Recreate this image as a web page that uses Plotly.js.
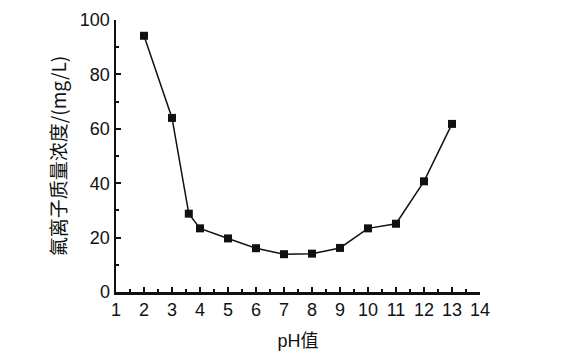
<!DOCTYPE html>
<html><head><meta charset="utf-8">
<script src="https://cdn.plot.ly/plotly-3.0.1.min.js"></script>
<style>html,body{margin:0;padding:0;background:#fff}#chart{width:563px;height:356px}</style>
</head><body><div id="chart"></div>
<script>
const phValues = [2, 3, 3.6, 4, 5, 6, 7, 8, 9, 10, 11, 12, 13];
const fluorideConc = [94.2, 64.0, 28.8, 23.4, 19.7, 16.1, 13.9, 14.1, 16.2, 23.4, 25.1, 40.7, 61.8];
const xTickVals = [1,2,3,4,5,6,7,8,9,10,11,12,13,14];
const yTickVals = [0,20,40,60,80,100];
const xTitle = 'pH值';
const yTitle = '氟离子质量浓度/(mg/L)';

const trace = {
  x: phValues, y: fluorideConc, type: 'scatter', mode: 'lines+markers',
  line: {color: '#111', width: 1.5},
  marker: {symbol: 'square', size: 8, color: '#111'},
  hoverinfo: 'x+y'
};
const layout = {
  width: 563, height: 356,
  margin: {l: 116, r: 83, t: 20, b: 64},
  paper_bgcolor: '#fff', plot_bgcolor: '#fff',
  font: {family: '"Liberation Sans", Arial, sans-serif', size: 18, color: '#111'},
  showlegend: false,
  xaxis: {
    range: [1, 14], tickvals: xTickVals, ticktext: xTickVals.map(String),
    showline: true, linewidth: 2.5, linecolor: '#111', showgrid: false, zeroline: false,
    ticks: 'inside', ticklen: 5, tickwidth: 2, tickcolor: '#111',
    minor: {dtick: 0.5, tick0: 1, ticks: 'inside', ticklen: 3, tickwidth: 2, tickcolor: '#111', showgrid: false},
    title: {text: xTitle, font: {family: '"Liberation Sans", "Noto Sans CJK SC", sans-serif', size: 18, color: '#111'}, standoff: 16},
    fixedrange: true
  },
  yaxis: {
    range: [0, 100], tickvals: yTickVals, ticktext: yTickVals.map(String),
    showline: true, linewidth: 2.5, linecolor: '#111', showgrid: false, zeroline: false,
    ticks: 'inside', ticklen: 5, tickwidth: 2, tickcolor: '#111',
    minor: {dtick: 10, tick0: 0, ticks: 'inside', ticklen: 3, tickwidth: 2, tickcolor: '#111', showgrid: false},
    title: {text: yTitle, font: {family: '"Noto Sans CJK SC", sans-serif', size: 19, color: '#111'}, standoff: 8},
    fixedrange: true
  }
};
Plotly.newPlot('chart', [trace], layout, {displayModeBar: false, staticPlot: true});
</script></body></html>
